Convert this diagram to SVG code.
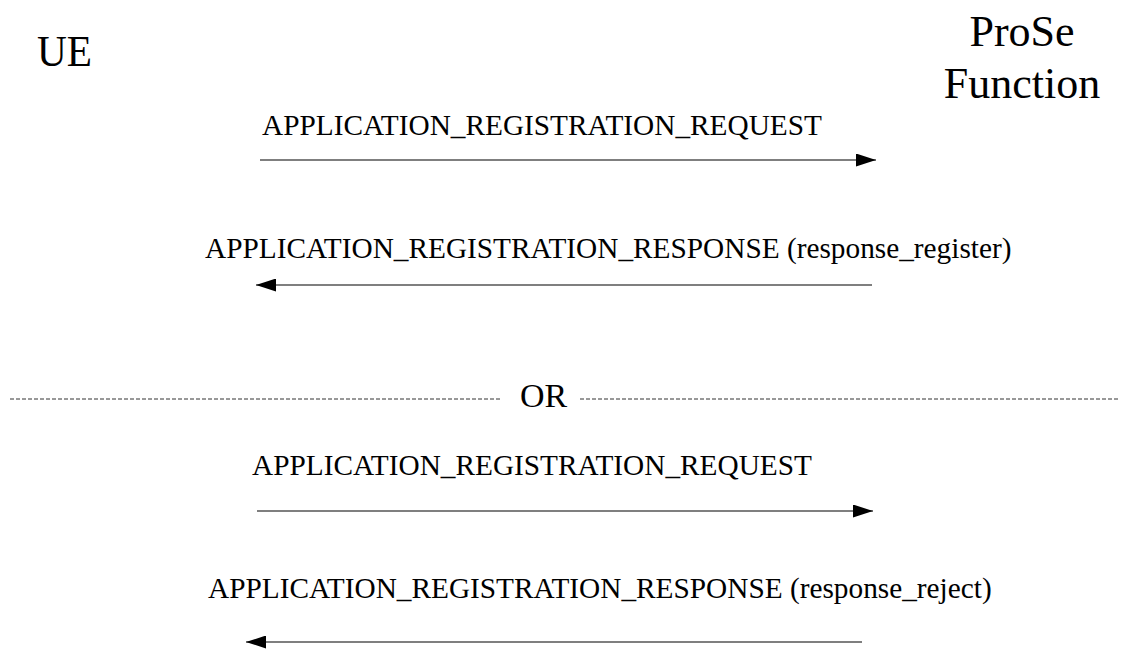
<svg xmlns="http://www.w3.org/2000/svg" width="1121" height="649" viewBox="0 0 1121 649">
<style>
.t{font-family:"Liberation Serif","Times New Roman",serif;fill:#000}
.big{font-size:44px}
.msg{font-size:29.3px}
.or{font-size:34px}
.ln{stroke:#000;stroke-width:1.2;fill:none}
.dash{stroke:#333;stroke-width:1;stroke-dasharray:4 2;fill:none}
</style>
<defs>
<marker id="ah" viewBox="0 0 20 13" refX="20" refY="6.5" markerWidth="20" markerHeight="13" markerUnits="userSpaceOnUse" orient="auto">
<path d="M0,0 L20,6.5 L0,13 Z" fill="#000"/>
</marker>
</defs>
<rect width="1121" height="649" fill="#fff"/>
<g id="ue"><text class="t big" x="37" y="66" textLength="55" lengthAdjust="spacingAndGlyphs">UE</text></g>
<g id="prose"><text class="t big" x="1022" y="46" text-anchor="middle">ProSe</text><text class="t big" x="1022" y="98" text-anchor="middle">Function</text></g>
<g id="connectors">
<line class="ln" x1="260" y1="160" x2="876" y2="160" marker-end="url(#ah)"/>
<line class="ln" x1="872" y1="285" x2="256" y2="285" marker-end="url(#ah)"/>
<line class="ln" x1="257" y1="511" x2="873" y2="511" marker-end="url(#ah)"/>
<line class="ln" x1="862" y1="642" x2="246" y2="642" marker-end="url(#ah)"/>
<line class="dash" x1="10" y1="399" x2="501" y2="399"/>
<line class="dash" x1="580" y1="399" x2="1119" y2="399"/>
</g>
<g id="labels">
<text class="t msg" x="262" y="135">APPLICATION_REGISTRATION_REQUEST</text>
<text class="t msg" x="205" y="258">APPLICATION_REGISTRATION_RESPONSE (response_register)</text>
<text class="t or" x="520" y="407">OR</text>
<text class="t msg" x="252" y="475">APPLICATION_REGISTRATION_REQUEST</text>
<text class="t msg" x="208" y="598">APPLICATION_REGISTRATION_RESPONSE (response_reject)</text>
</g>
</svg>
